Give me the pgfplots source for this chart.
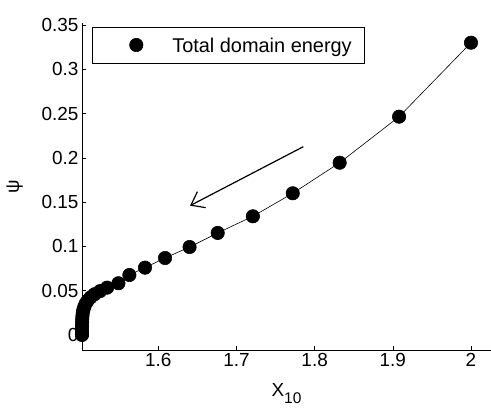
\documentclass[border=0pt]{standalone}
\usepackage{fontspec}
\setmainfont{Liberation Sans}
\usepackage{pgfplots}
\pgfplotsset{compat=1.18}
\usetikzlibrary{arrows.meta}
\begin{document}
\begin{tikzpicture}[font=\fontsize{19}{22}\selectfont]
\begin{axis}[
  scale only axis,
  width=409bp, height=327bp,
  xmin=1.5024, xmax=2.0256,
  ymin=-0.017, ymax=0.3523,
  axis lines*=left,
  axis line style={line width=0.6bp},
  tick align=inside,
  major tick length=4bp,
  tick style={line width=0.6bp, black},
  xtick={1.6,1.7,1.8,1.9,2},
  xticklabels={1.6,1.7,1.8,1.9,2},
  ytick={0,0.05,0.1,0.15,0.2,0.25,0.3,0.35},
  yticklabels={0,0.05,0.1,0.15,0.2,0.25,0.3,0.35},
  xlabel={X\raisebox{-0.38em}{\fontsize{15.5}{16}\selectfont 10}},
  ylabel={ψ},
  xlabel style={yshift=-10bp},
  ylabel style={yshift=12bp},
  clip=false,
  legend style={at={(rel axis cs:0,1)}, anchor=north west, xshift=10bp, yshift=-4bp,
    draw=black, line width=0.6bp, inner sep=0pt, column sep=0pt,
    font=\fontsize{20}{23}\selectfont,
    cells={inner sep=0pt}},
  legend image code/.code={\path[draw=none,fill=none] (-44bp,-17bp) rectangle (34bp,19bp); \fill[black] (0bp,0.13em) circle (6.7bp);},
]
\addplot[black, line width=0.6bp, mark=*, mark size=6.7bp, mark options={fill=black}] coordinates {
(2.000, 0.3300)
(1.908, 0.2465)
(1.832, 0.1945)
(1.772, 0.1600)
(1.721, 0.1340)
(1.676, 0.1152)
(1.640, 0.0993)
(1.6086, 0.0869)
(1.583, 0.0760)
(1.563, 0.0677)
(1.549, 0.0584)
(1.5345, 0.0534)
(1.5255, 0.0495)
(1.5185, 0.0460)
(1.5135, 0.0425)
(1.5098, 0.0390)
(1.5072, 0.0355)
(1.5054, 0.0320)
(1.5042, 0.0285)
(1.5034, 0.0250)
(1.5030, 0.0215)
(1.5027, 0.0180)
(1.5026, 0.0145)
(1.5025, 0.0110)
(1.5024, 0.0075)
(1.5024, 0.0040)
(1.5024, 0.0010)
(1.5024, 0.0000)
};
\addlegendentry{Total domain energy\rule{11bp}{0pt}}
\draw[line width=1.2bp, -{Straight Barb[length=12bp,width=18bp,line width=1.2bp]}] (axis cs:1.7855,0.2126) -- (axis cs:1.6406,0.146);
\end{axis}
\pgfresetboundingbox
\path (current axis.south west) ++(-82bp,-60bp);
\path (current axis.north east) ++(0bp,23bp);
\end{tikzpicture}
\end{document}
